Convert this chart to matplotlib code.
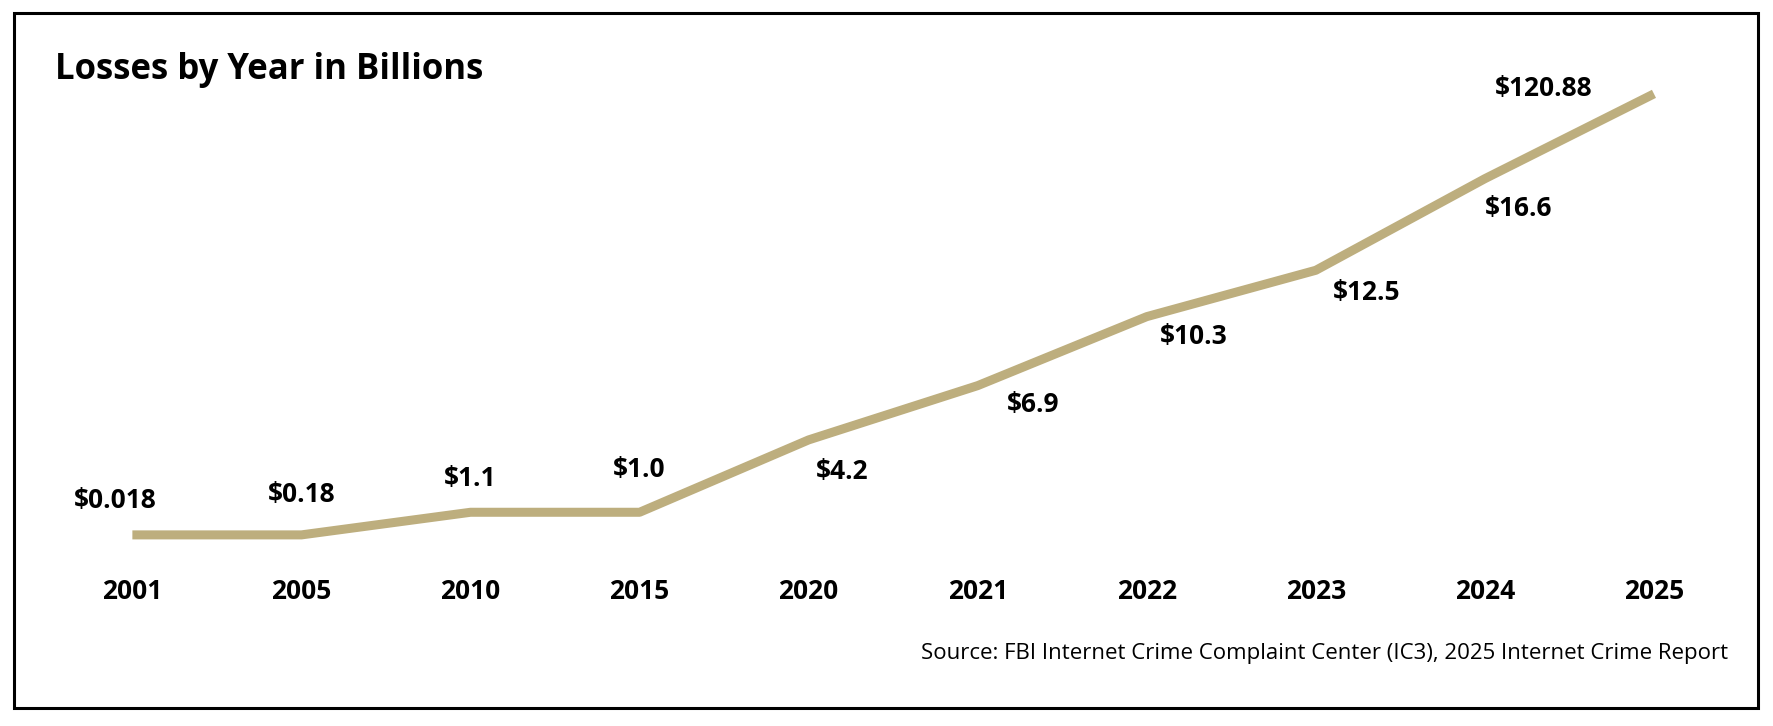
import matplotlib
matplotlib.use("Agg")
from matplotlib import pyplot as plt
from matplotlib.patches import Rectangle

years = ["2001", "2005", "2010", "2015", "2020", "2021", "2022", "2023", "2024", "2025"]
labels = ["$0.018", "$0.18", "$1.1", "$1.0", "$4.2", "$6.9", "$10.3", "$12.5", "$16.6", "$120.88"]
# stylised line height as drawn in the original (not to scale with the values)
levels = [169, 169, 189, 189, 253, 301, 362, 403, 484, 559]

# label offsets from the line point (x, y in axis units)
label_dx = [-0.1, 0.0, 0.0, 0.0, 0.2, 0.33, 0.28, 0.3, 0.2, -0.65]
label_dy = [30, 36, 30, 38, -28, -17, -18, -20, -26, 5]

plt.rcParams['font.family'] = ['Open Sans', 'DejaVu Sans']

fig = plt.figure(figsize=(17.74, 7.26), dpi=100)
ax = fig.add_axes([0, 0, 1, 1])
ax.set_xlim(-0.783, 9.71)
ax.set_ylim(0, 642)
ax.axis("off")

xs = list(range(len(years)))
ax.plot(xs, levels, color="#BDAE7E", linewidth=6.5, solid_capstyle="butt")

for i, (lab, lv) in enumerate(zip(labels, levels)):
    ax.text(i + label_dx[i], lv + label_dy[i], lab, ha="center", va="center",
            fontsize=19, fontweight="bold", color="black")
    ax.text(i, 119, years[i], ha="center", va="center",
            fontsize=19, fontweight="bold", color="black")

fig.text(0.031, 0.903, "Losses by Year in Billions", ha="left", va="center",
         fontsize=25, fontweight="bold", color="black")
fig.text(0.974, 0.1, "Source: FBI Internet Crime Complaint Center (IC3), 2025 Internet Crime Report",
         ha="right", va="center", fontsize=16, color="black")

fig.patches.append(Rectangle((0.008, 0.025), 0.983, 0.957, transform=fig.transFigure,
                             fill=False, edgecolor="black", linewidth=2.2))

fig.savefig("out.png", dpi=100, facecolor="white")
